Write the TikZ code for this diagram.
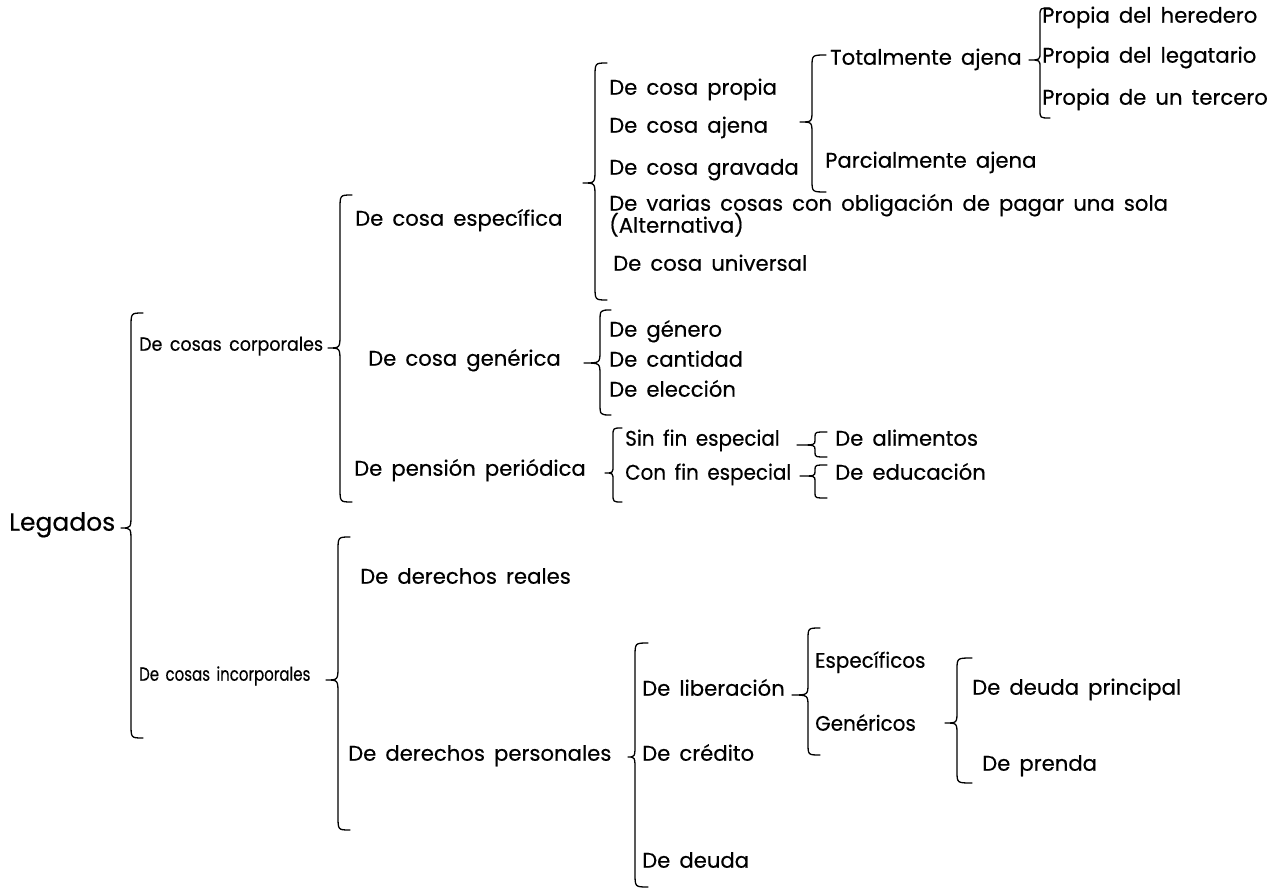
\documentclass[tikz,border=0pt]{standalone}
\usepackage{fontspec}
\setmainfont{Poppins}[WordSpace=1.6, FakeBold=0.4]
\newcommand\curly[7]{% tipx, vx, hookx, top, tipy, bottom, r
  \draw[brc] (#3,#4) .. controls (#2,#4) .. (#2,#4+#7) -- (#2,#5-#7)
    .. controls (#2,#5) .. (#1,#5) .. controls (#2,#5) .. (#2,#5+#7)
    -- (#2,#6-#7) .. controls (#2,#6) .. (#3,#6);}
\begin{document}
\begin{tikzpicture}[x=1pt,y=-1pt,
  brc/.style={line width=1.3pt, line cap=round, line join=round},
  lbl/.style={anchor=mid west, inner sep=0pt,
    font=\fontsize{21.2}{24}\selectfont},
  big/.style={lbl, font=\fontsize{25}{28}\selectfont},
  narrow/.style={anchor=mid west, inner sep=0pt,
    font=\fontsize{19}{22}\selectfont},
  narrowb/.style={anchor=mid west, inner sep=0pt,
    font=\fontsize{21}{24}\selectfont}]
\useasboundingbox[fill=white] (0,0) rectangle (1287,890);

% level 0
\node[big] (leg) at (9,528) {Legados};
\curly{121}{131}{143}{313}{528}{738}{14}

% level 1
\node[narrow] (cor) at (139,348) {\scalebox{0.92}[1]{De cosas corporales}};
\node[narrow] (inc) at (139,678) {\scalebox{0.79}[1]{De cosas incorporales}};
\curly{328}{340}{352}{195}{348}{502}{14}
\curly{326}{338}{350}{537}{680}{830}{14}

% corporales children
\node[lbl] (esp) at (355,223) {De cosa específica};
\node[lbl] (gen) at (368,363) {De cosa genérica};
\node[lbl] (pen) at (354,473) {De pensión periódica};

% específica
\curly{583}{595}{607}{63}{183}{300}{14}
\node[lbl] (prop) at (609,92) {De cosa propia};
\node[lbl] (aje) at (609,130) {De cosa ajena};
\node[lbl] (grav) at (609,172) {De cosa gravada};
\node[lbl] (var) at (609,208) {De varias cosas con obligación de pagar una sola};
\node[lbl] (alt) at (609,230) {(Alternativa)};
\node[lbl] (univ) at (613,268) {De cosa universal};

% ajena
\curly{800}{812}{826}{55}{122}{192}{12}
\node[lbl] (tot) at (830,62) {Totalmente ajena};
\node[lbl] (par) at (825,165) {Parcialmente ajena};

% totalmente
\curly{1029}{1040}{1050}{8}{60}{118}{8}
\node[lbl] (her) at (1042,20) {Propia del heredero};
\node[lbl] (lega) at (1042,60) {Propia del legatario};
\node[lbl] (ter) at (1042,102) {Propia de un tercero};

% genérica
\curly{584}{600}{611}{310}{363}{415}{12}
\node[lbl] (gne) at (609,334) {De género};
\node[lbl] (can) at (609,364) {De cantidad};
\node[lbl] (ele) at (609,394) {De elección};

% pensión
\curly{605}{613}{622}{428}{473}{502}{8}
\node[lbl] (sin) at (625,443) {\scalebox{0.94}[1]{Sin fin especial}};
\node[lbl] (con) at (625,477) {\scalebox{0.94}[1]{Con fin especial}};
\curly{797}{815}{827}{432}{445}{457}{5}
\curly{800}{815}{827}{465}{476}{498}{5}
\node[lbl] (ali) at (835,443) {De alimentos};
\node[lbl] (edu) at (835,477) {De educación};

% incorporales children
\node[lbl] (rea) at (360,581) {De derechos reales};
\node[lbl] (per) at (348,758) {De derechos personales};
\curly{628}{635}{648}{643}{757}{887}{14}
\node[lbl] (lib) at (642,693) {De liberación};
\node[lbl] (cre) at (642,758) {De crédito};
\node[lbl] (deu) at (642,865) {De deuda};

% liberación
\curly{792}{808}{820}{628}{695}{755}{12}
\node[narrowb] (espc) at (815,665) {\scalebox{0.95}[1]{Específicos}};
\node[narrowb] (gnc) at (815,728) {\scalebox{0.95}[1]{Genéricos}};

% genéricos
\curly{945}{957}{972}{658}{723}{783}{12}
\node[lbl] (dpr) at (972,692) {De deuda principal};
\node[lbl] (pre) at (982,768) {De prenda};
\end{tikzpicture}
\end{document}
